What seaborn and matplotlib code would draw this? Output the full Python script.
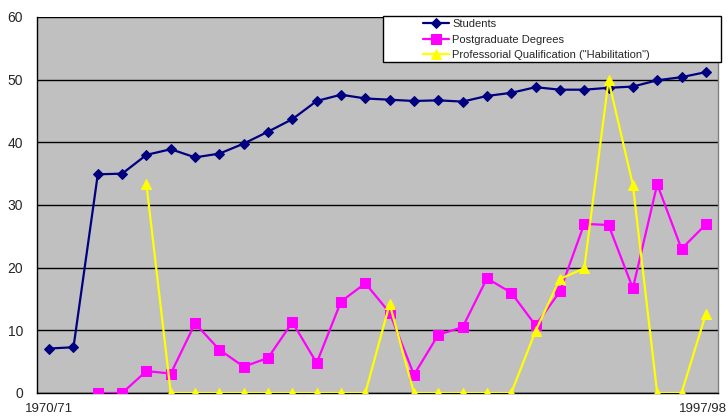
import numpy as np
import pandas as pd
import matplotlib
matplotlib.use("Agg")
import matplotlib.pyplot as plt
import matplotlib.transforms as mtransforms
import seaborn as sns
from matplotlib.patches import Rectangle
from matplotlib.ticker import FixedLocator

years = ["1970/71", "1971/72", "1972/73", "1973/74", "1974/75", "1975/76", "1976/77",
         "1977/78", "1978/79", "1979/80", "1980/81", "1981/82", "1982/83", "1983/84",
         "1984/85", "1985/86", "1986/87", "1987/88", "1988/89", "1989/90", "1990/91",
         "1991/92", "1992/93", "1993/94", "1994/95", "1995/96", "1996/97", "1997/98"]
shown_labels = ["1970/71", "1997/98"]

students = [7.1, 7.3, 34.9, 35.0, 38.0, 38.9, 37.6, 38.2, 39.8, 41.7, 43.7, 46.6, 47.6, 47.0,
            46.8, 46.6, 46.7, 46.5, 47.4, 47.9, 48.8, 48.4, 48.4, 48.7, 48.9, 49.9, 50.4, 51.2]
postgrad = [np.nan, np.nan, 0, 0, 3.5, 3.1, 11.1, 6.9, 4.2, 5.6, 11.3, 4.8, 14.6, 17.5,
            12.8, 2.9, 9.3, 10.5, 18.3, 16.0, 10.8, 16.2, 27.0, 26.8, 16.7, 33.3, 23.0, 26.9]
habil = [np.nan, np.nan, np.nan, np.nan, 33.3, 0, 0, 0, 0, 0, 0, 0, 0, 0,
         14.2, 0, 0, 0, 0, 0, 9.9, 18.2, 19.9, 49.9, 33.2, 0, 0, 12.6]

series_names = ["Students", "Postgraduate Degrees", "Professorial Qualification (\"Habilitation\")"]
series_values = [students, postgrad, habil]

sns.set_style("white")
plt.rcParams["font.family"] = ["Liberation Sans", "DejaVu Sans"]

fig = plt.figure(figsize=(7.28, 4.16), dpi=100)
ax = fig.add_axes([37/728, 23/416, 681/728, 376/416])
ax.set_facecolor("#C0C0C0")

pos = np.arange(len(years))
styles = [
    dict(color="#000080", marker="D", markersize=5, markeredgecolor="#000080"),
    dict(color="#FF00FF", marker="s", markersize=6.5, markeredgecolor="#FF00FF"),
    dict(color="#FFFF00", marker="^", markersize=7, markeredgecolor="#FFFF00"),
]
for name, vals, st in zip(series_names, series_values, styles):
    df = pd.DataFrame({"x": pos, "y": vals}).dropna()
    sns.lineplot(data=df, x="x", y="y", ax=ax, label=name, linewidth=1.6, zorder=3, **st)

ax.set_xlim(-0.5, len(years) - 0.5)
ax.set_ylim(0, 60)
ax.set_yticks(range(0, 61, 10))
ax.yaxis.grid(True, color="black", linewidth=1.0, zorder=1)
ax.set_axisbelow(True)
ax.set_xlabel("")
ax.set_ylabel("")

ax.set_xticks([0, len(years) - 1])
ax.set_xticklabels(shown_labels)
ax.xaxis.set_minor_locator(FixedLocator(np.arange(-0.5, len(years), 1.0)))
ax.tick_params(axis="x", which="major", length=0, pad=7, labelsize=9.5)
ax.tick_params(axis="x", which="minor", length=4, width=1, color="black", direction="out")
ax.tick_params(axis="y", length=4, width=1, color="black", direction="out", pad=6, labelsize=10)

# keep the last label inside the figure (as in the reference, right-aligned to the edge)
last = ax.get_xticklabels()[-1]
last.set_horizontalalignment("right")
last.set_transform(last.get_transform() + mtransforms.ScaledTranslation(21/100, 0, fig.dpi_scale_trans))

for s in ["left", "bottom"]:
    ax.spines[s].set_color("black")
    ax.spines[s].set_linewidth(1.0)
ax.spines["top"].set_visible(False)
ax.spines["right"].set_color("#808080")
ax.spines["right"].set_linewidth(1.0)

# legend
handles, labels = ax.get_legend_handles_labels()
ax.legend().remove()
rect = Rectangle((383/728, 1 - 62/416), (721-383)/728, (62-16)/416, transform=fig.transFigure,
                 facecolor="white", edgecolor="black", linewidth=1.0, zorder=8, clip_on=False)
fig.add_artist(rect)
leg = fig.legend(handles, labels, loc="upper left", bbox_to_anchor=(421/728, 1 - 17/416),
                 frameon=False, fontsize=8, handlelength=2.3, handletextpad=0.3,
                 labelspacing=0.5, borderpad=0.2, borderaxespad=0)
leg.set_zorder(10)

fig.savefig("out.png", dpi=100)
